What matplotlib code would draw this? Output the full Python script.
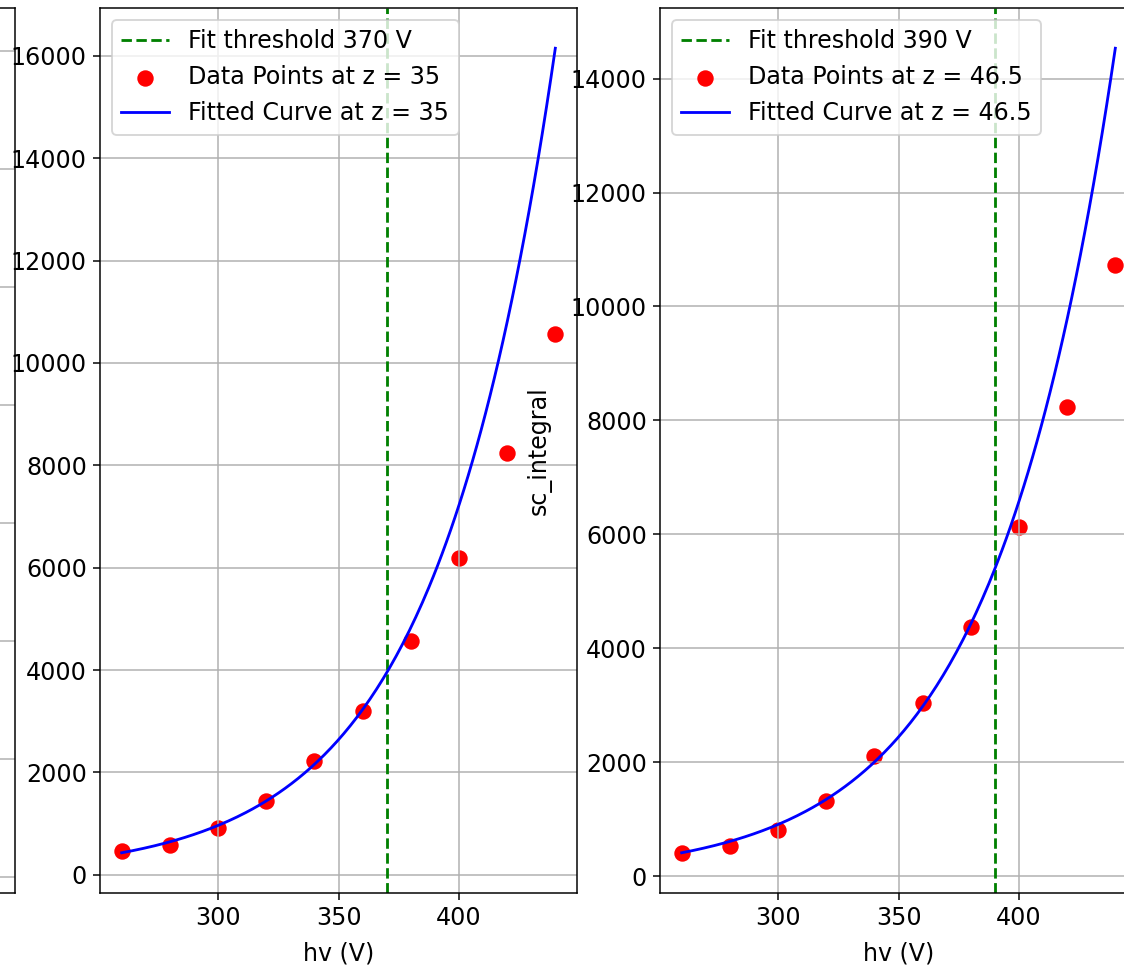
import numpy as np
import matplotlib
matplotlib.use('Agg')
import matplotlib.pyplot as plt

# hv values (V) and integrated signal
hv = [260, 280, 300, 320, 340, 360, 380, 400, 420, 440]
sc_z35 = [470, 590, 920, 1450, 2220, 3200, 4560, 6190, 8250, 10570]
sc_z465 = [414, 533, 812, 1314, 2101, 3038, 4370, 6129, 8243, 10730]

z_values = [35, 46.5]
thresholds = [370, 390]
series = [sc_z35, sc_z465]

plt.rcParams['font.size'] = 12.7

dpi = 135
fig = plt.figure(figsize=(1124 / dpi, 971 / dpi), dpi=dpi)

# axes placed so the picture looks like a crop out of a wider 3 panel figure
W, H = 1124, 971
def px_axes(left, top, right, bottom):
    return fig.add_axes([left / W, 1 - bottom / H, (right - left) / W, (bottom - top) / H])

# previous panel, only its right edge shows at the far left
ax_prev = px_axes(15 - 477, 8, 15, 893)
ax_prev.set_xlim(251, 449)
ax_prev.set_ylim(-271, 14729)
ax_prev.set_yticks(np.arange(0, 14001, 2000))
ax_prev.grid(True)

panels = [px_axes(100, 8, 577, 893), px_axes(660, 8, 1137, 893)]

for ax, z, thr, sc in zip(panels, z_values, thresholds, series):
    x = np.array(hv, dtype=float)
    y = np.array(sc, dtype=float)
    # exponential fit on the points below the threshold
    mask = x <= thr
    b, ln_a = np.polyfit(x[mask], np.log(y[mask]), 1, w=y[mask])
    x_fit = np.linspace(x.min(), x.max(), 200)
    y_fit = np.exp(ln_a + b * x_fit)

    ax.axvline(thr, color='green', linestyle='--', label=f'Fit threshold {thr} V')
    ax.scatter(x, y, color='red', s=60, label=f'Data Points at z = {z}')
    ax.plot(x_fit, y_fit, color='blue', label=f'Fitted Curve at z = {z}')
    ax.set_xticks([300, 350, 400])
    ax.set_xlabel('hv (V)', labelpad=6)
    ax.set_ylabel('sc_integral', labelpad=10)
    ax.grid(True)
    ax.legend(loc='upper left')

plt.savefig('out.png', dpi=dpi)
